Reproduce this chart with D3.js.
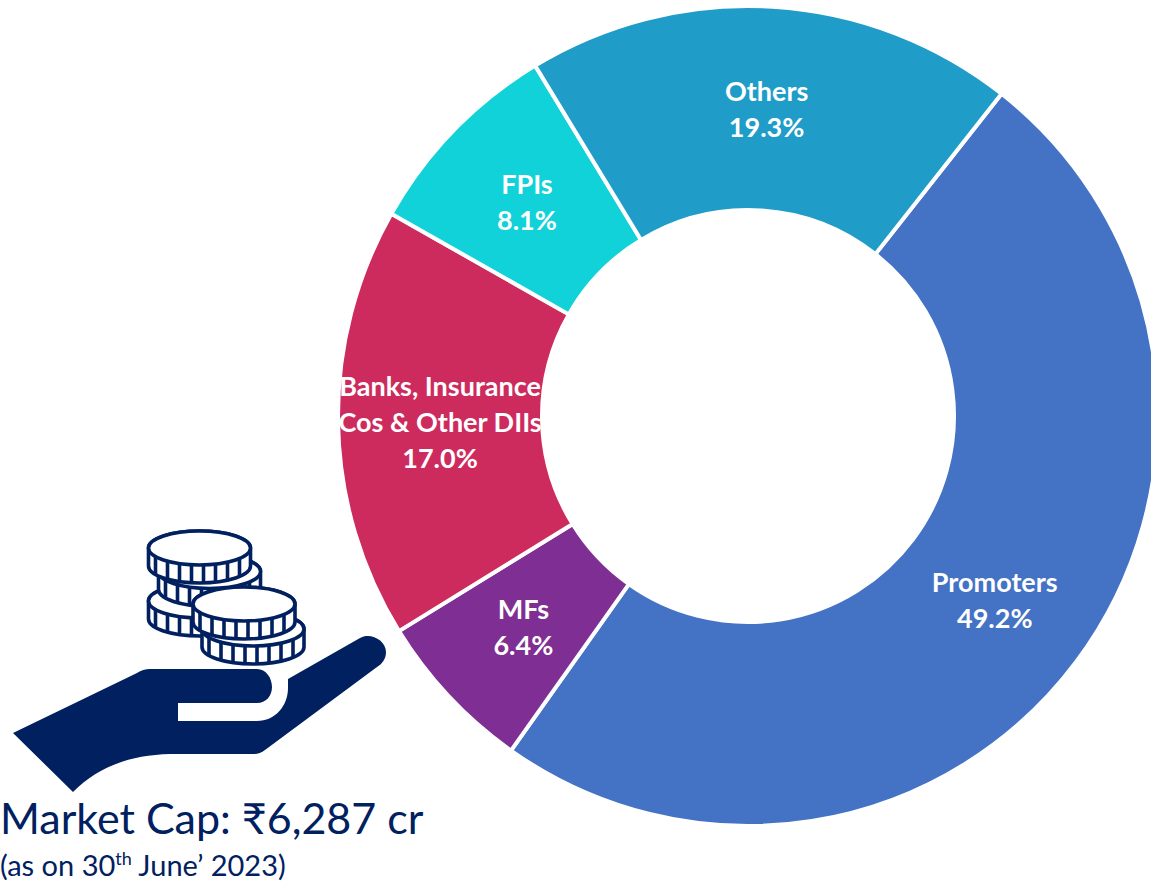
<!DOCTYPE html>
<html>
<head>
<meta charset="utf-8">
<script src="https://cdn.jsdelivr.net/npm/d3@7"></script>
<style>
    html, body { margin: 0; padding: 0; background: #fff; overflow: hidden; }
    text { font-family: Lato, "Open Sans", sans-serif; }
</style>
</head>
<body>
<div id="chart"></div>
<script>
// Shareholding split, clockwise from the Promoters slice
const categories = ['Promoters', 'MFs', 'Banks, Insurance|Cos & Other DIIs', 'FPIs', 'Others'];
const shares = [49.2, 6.4, 17.0, 8.1, 19.3];
const sliceColors = ['#4472C4', '#7F2F93', '#CD2A5E', '#10D2D8', '#1F9DC8'];
const navy = '#002060';

const width = 1151, height = 883;
const cx = 748, cy = 416;
const outerR = 410, innerR = 206;
const startAngle = 38.2 * Math.PI / 180;

const svg = d3.select('#chart').append('svg')
    .attr('width', width)
    .attr('height', height)
    .style('display', 'block');

const pie = d3.pie().sort(null).startAngle(startAngle).endAngle(startAngle + 2 * Math.PI);
const arc = d3.arc().innerRadius(innerR).outerRadius(outerR);
const arcs = pie(shares);

const donut = svg.append('g').attr('transform', `translate(${cx},${cy})`);

donut.selectAll('path')
    .data(arcs)
    .join('path')
    .attr('d', arc)
    .attr('fill', (d, i) => sliceColors[i])
    .attr('stroke', '#fff')
    .attr('stroke-width', 4);

// Labels sit on the slice centroid, name lines then the value
const labels = donut.selectAll('text')
    .data(arcs)
    .join('text')
    .attr('text-anchor', 'middle')
    .attr('fill', '#fff')
    .attr('font-size', 27)
    .attr('font-weight', 700)
    .attr('transform', d => {
        const [x, y] = arc.centroid(d);
        return `translate(${x},${y})`;
    });

labels.each(function (d, i) {
    const lines = categories[i].split('|').concat(d.value.toFixed(1) + '%');
    const top = -(lines.length - 1) * 36 / 2 + 10;
    d3.select(this).selectAll('tspan')
        .data(lines)
        .join('tspan')
        .attr('x', 0)
        .attr('y', (l, j) => top + j * 36)
        .text(l => l);
});

// Hand icon
svg.append('path')
    .attr('fill', navy)
    .attr('d', 'M13,733 L137,673 Q143,669 150,669 L257,669 C266,669 272,678 272,687 C272,696 266,703 257,703 ' +
        'L178,703 L178,721 L257,721 C275,721 288,706 288,688 L288,679 L360,638 C370,632 386,640 386,652 ' +
        'C386,659 382,664 377,667 L265,750 Q260,754 254,754 L170,754 C130,755 98,767 73,792 Z');

// Coins, back to front
const coinData = [
    {x: 199.5, y: 601},
    {x: 209.5, y: 571.5},
    {x: 199.5, y: 548},
    {x: 253, y: 629},
    {x: 244, y: 604}
];
const coinRx = 51, coinRy = 17, coinH = 18;
const ribOffsets = [-44, -32, -20, -8, 4, 16, 28, 40];

const coins = svg.selectAll('g.coin')
    .data(coinData)
    .join('g')
    .attr('class', 'coin')
    .attr('transform', d => `translate(${d.x},${d.y})`)
    .attr('fill', '#fff')
    .attr('stroke', navy)
    .attr('stroke-width', 3.6);

coins.append('path')
    .attr('d', `M${-coinRx},0 A${coinRx},${coinRy} 0 0 1 ${coinRx},0 L${coinRx},${coinH} ` +
        `A${coinRx},${coinRy} 0 0 1 ${-coinRx},${coinH} Z`);

coins.selectAll('line')
    .data(ribOffsets)
    .join('line')
    .attr('x1', d => d)
    .attr('x2', d => d)
    .attr('y1', d => coinRy * Math.sqrt(1 - d * d / (coinRx * coinRx)))
    .attr('y2', d => coinH + coinRy * Math.sqrt(1 - d * d / (coinRx * coinRx)));

coins.append('ellipse')
    .attr('rx', coinRx)
    .attr('ry', coinRy);

// Caption
svg.append('text')
    .attr('x', 0)
    .attr('y', 834)
    .attr('fill', navy)
    .attr('font-size', 43)
    .text('Market Cap: ₹6,287 cr');

const sub = svg.append('text')
    .attr('x', 0)
    .attr('y', 876)
    .attr('fill', navy)
    .attr('font-size', 29);
sub.append('tspan').text('(as on 30');
sub.append('tspan').attr('font-size', 18).attr('dy', -11).text('th');
sub.append('tspan').attr('dy', 11).text(' June’ 2023)');
</script>
</body>
</html>
